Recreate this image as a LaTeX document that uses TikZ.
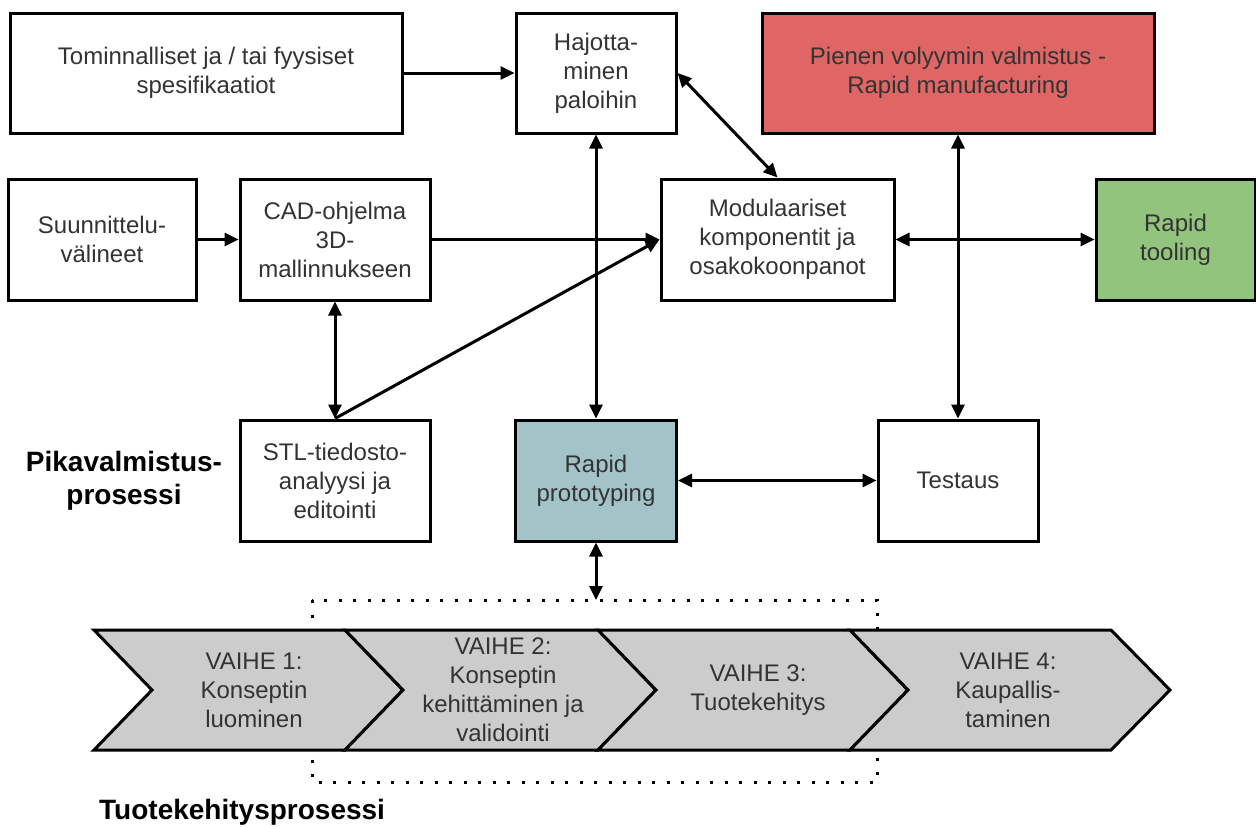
\documentclass[tikz,border=0pt]{standalone}
\usepackage{fontspec}
\setmainfont{Liberation Sans}
\usetikzlibrary{arrows.meta}
\definecolor{txtgray}{HTML}{333333}
\definecolor{mfgred}{HTML}{E06666}
\definecolor{toolgreen}{HTML}{93C47D}
\definecolor{protoblue}{HTML}{A2C4C9}
\definecolor{phasegray}{HTML}{CCCCCC}

\begin{document}
\begin{tikzpicture}[x=1pt,y=-1pt,
  box/.style={draw=black, line width=3pt, fill=white, rectangle, inner sep=0pt,
    align=center, text=txtgray, font=\fontsize{24}{29}\selectfont},
  tip/.style={Triangle[length=14pt,width=13pt]},
  link/.style={line width=3pt, -{Triangle[length=14pt,width=13pt]}},
  both/.style={line width=3pt, {Triangle[length=14pt,width=13pt]}-{Triangle[length=14pt,width=13pt]}},
  phase/.style={draw=black, line width=3pt, fill=phasegray, line join=miter},
  phasetext/.style={align=center, text=txtgray, inner sep=0pt, font=\fontsize{24}{29}\selectfont},
  heading/.style={align=center, inner sep=0pt, font=\bfseries\fontsize{28}{33}\selectfont}
]
\useasboundingbox (0,0) rectangle (1256,827);

% top row
\node[box, minimum width=392pt, minimum height=120pt] (tom) at (206,73)
  {Tominnalliset ja / tai fyysiset\\spesifikaatiot};
\node[box, minimum width=160pt, minimum height=120pt] (haj) at (596,73)
  {Hajotta-\\minen\\paloihin};
\node[box, fill=mfgred, minimum width=392pt, minimum height=120pt] (rm) at (958,73)
  {Pienen volyymin valmistus -\\Rapid manufacturing};

% middle row
\node[box, minimum width=188pt, minimum height=121pt] (suun) at (102,239.5)
  {Suunnittelu-\\välineet};
\node[box, minimum width=190pt, minimum height=121pt] (cad) at (335,239.5)
  {CAD-ohjelma\\3D-\\mallinnukseen};
\node[box, minimum width=233pt, minimum height=121pt] (mod) at (777.5,239.5)
  {Modulaariset\\komponentit ja\\osakokoonpanot};
\node[box, fill=toolgreen, minimum width=159pt, minimum height=121pt] (rt) at (1175.5,239.5)
  {Rapid\\tooling};

% lower row
\node[box, minimum width=190pt, minimum height=121pt] (stl) at (335,480.5)
  {STL-tiedosto-\\analyysi ja\\editointi};
\node[box, fill=protoblue, minimum width=161pt, minimum height=121pt] (rp) at (596,480.5)
  {Rapid\\prototyping};
\node[box, minimum width=160pt, minimum height=121pt] (test) at (958,480.5)
  {Testaus};

\node[heading] (pika) at (124,481) {Pikavalmistus-\\prosessi};

% connectors
\draw[link] (tom) -- (haj);
\draw[both] (haj.east) -- (mod.north);
\draw[link] (suun) -- (cad);
\draw[link] (cad.east) -- (mod.west);
\draw[link] (stl.north) -- (mod.west);
\draw[both] (cad.south) -- (stl.north);
\draw[both] (haj.south) -- (haj.south |- rp.north);
\draw[both] (mod.east) -- (rt.west);
\draw[both] (rm.south) -- (test.north);
\draw[both] (rp.east) -- (test.west);

% product development phases
\coordinate (dtop) at (596,600);
\draw[line width=3pt, dash pattern=on 3pt off 11.5pt] (312,600) rectangle (877,782);
\draw[both] (rp.south) -- (dtop);

\draw[phase] (94,630) -- (345,630) -- (403,690) -- (345,750) -- (94,750) -- (152,690) -- cycle;
\draw[phase] (345,630) -- (598,630) -- (656,690) -- (598,750) -- (345,750) -- (403,690) -- cycle;
\draw[phase] (598,630) -- (850,630) -- (908,690) -- (850,750) -- (598,750) -- (656,690) -- cycle;
\draw[phase] (850,630) -- (1111,630) -- (1170,690) -- (1111,750) -- (850,750) -- (908,690) -- cycle;

\node[phasetext] (p1) at (254,690) {VAIHE 1:\\Konseptin\\luominen};
\node[phasetext] (p2) at (503,690) {VAIHE 2:\\Konseptin\\kehittäminen ja\\validointi};
\node[phasetext] (p3) at (758,690) {VAIHE 3:\\Tuotekehitys};
\node[phasetext] (p4) at (1008,690) {VAIHE 4:\\Kaupallis-\\taminen};

\node[heading, anchor=west] (tuote) at (99,812) {Tuotekehitysprosessi};
\end{tikzpicture}
\end{document}
